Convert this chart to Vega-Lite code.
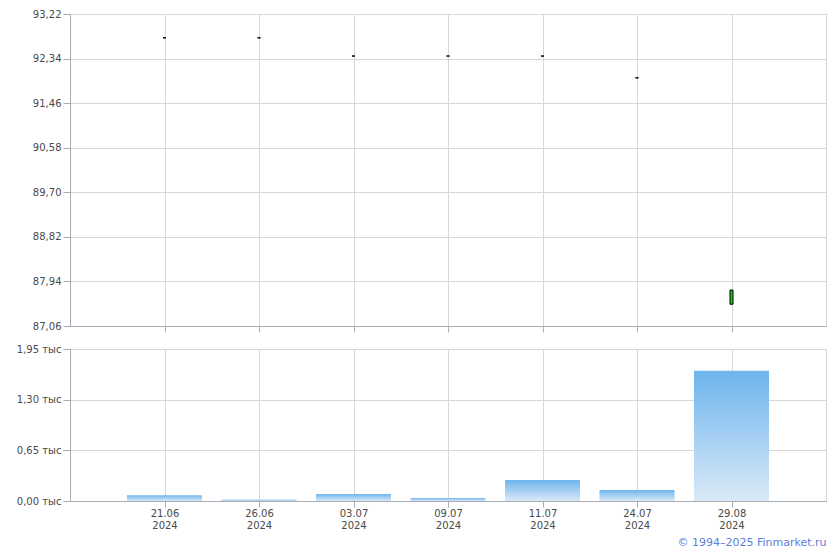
{
  "$schema": "https://vega.github.io/schema/vega-lite/v6.json",
  "background": "white",
  "padding": {"left": 15, "top": 8, "right": 5, "bottom": 2},
  "config": {
    "view": {"stroke": "#d5d9de"},
    "axis": {
      "labelFont": "DejaVu Sans",
      "labelFontSize": 10,
      "labelColor": "#4a4a4a",
      "domainColor": "#a8acb4",
      "tickColor": "#a8acb4",
      "gridColor": "#d5d9de",
      "tickSize": 7,
      "labelPadding": 2,
      "title": null
    },
    "concat": {"spacing": 10}
  },
  "title": {
    "text": "© 1994–2025 Finmarket.ru",
    "orient": "bottom",
    "anchor": "end",
    "color": "#5b80d8",
    "font": "DejaVu Sans",
    "fontSize": 11,
    "fontWeight": "normal",
    "offset": 6
  },
  "datasets": {
    "quotes": [
      {"date": "2024-06-21", "open": 92.75, "high": 92.75, "low": 92.75, "close": 92.75, "volume": 75},
      {"date": "2024-06-26", "open": 92.75, "high": 92.75, "low": 92.75, "close": 92.75, "volume": 15},
      {"date": "2024-07-03", "open": 92.39, "high": 92.39, "low": 92.39, "close": 92.39, "volume": 90},
      {"date": "2024-07-09", "open": 92.39, "high": 92.39, "low": 92.39, "close": 92.39, "volume": 40},
      {"date": "2024-07-11", "open": 92.39, "high": 92.39, "low": 92.39, "close": 92.39, "volume": 270},
      {"date": "2024-07-24", "open": 91.96, "high": 91.96, "low": 91.96, "close": 91.96, "volume": 140},
      {"date": "2024-08-29", "open": 87.49, "high": 87.77, "low": 87.49, "close": 87.77, "volume": 1670}
    ]
  },
  "vconcat": [
    {
      "width": 756,
      "height": 312,
      "data": {"name": "quotes"},
      "encoding": {
        "x": {
          "field": "date",
          "type": "ordinal",
          "sort": null,
          "scale": {"type": "point", "padding": 1},
          "axis": {"labels": false, "grid": true, "tickSize": 6}
        }
      },
      "layer": [
        {
          "mark": {"type": "rule", "color": "black"},
          "encoding": {
            "y": {
              "field": "low",
              "type": "quantitative",
              "scale": {"domain": [87.06, 93.22], "nice": false, "zero": false},
              "axis": {
                "values": [87.06, 87.94, 88.82, 89.70, 90.58, 91.46, 92.34, 93.22],
                "labelExpr": "replace(format(datum.value, '.2f'), '.', ',')",
                "grid": true
              }
            },
            "y2": {"field": "high"}
          }
        },
        {
          "mark": {"type": "bar", "width": 3, "stroke": "black", "strokeWidth": 1},
          "encoding": {
            "y": {"field": "open", "type": "quantitative"},
            "y2": {"field": "close"},
            "fill": {
              "condition": {"test": "datum.close > datum.open", "value": "#1fc31f"},
              "value": "#e03030"
            }
          }
        }
      ]
    },
    {
      "width": 756,
      "height": 152,
      "data": {"name": "quotes"},
      "mark": {
        "type": "bar",
        "width": 75,
        "fill": {
          "gradient": "linear",
          "x1": 0, "y1": 0, "x2": 0, "y2": 1,
          "stops": [
            {"offset": 0, "color": "#6db5ee"},
            {"offset": 1, "color": "#dbe9f7"}
          ]
        }
      },
      "encoding": {
        "x": {
          "field": "date",
          "type": "ordinal",
          "sort": null,
          "scale": {"type": "point", "padding": 1},
          "axis": {
            "grid": true,
            "labelAngle": 0,
            "tickSize": 6,
            "labelPadding": 1,
            "labelLineHeight": 12,
            "labelExpr": "[substring(datum.value, 8, 10) + '.' + substring(datum.value, 5, 7), substring(datum.value, 0, 4)]"
          }
        },
        "y": {
          "field": "volume",
          "type": "quantitative",
          "scale": {"domain": [0, 1950], "nice": false},
          "axis": {
            "values": [0, 650, 1300, 1950],
            "labelExpr": "replace(format(datum.value / 1000, '.2f'), '.', ',') + ' тыс'",
            "grid": true
          }
        }
      }
    }
  ]
}
